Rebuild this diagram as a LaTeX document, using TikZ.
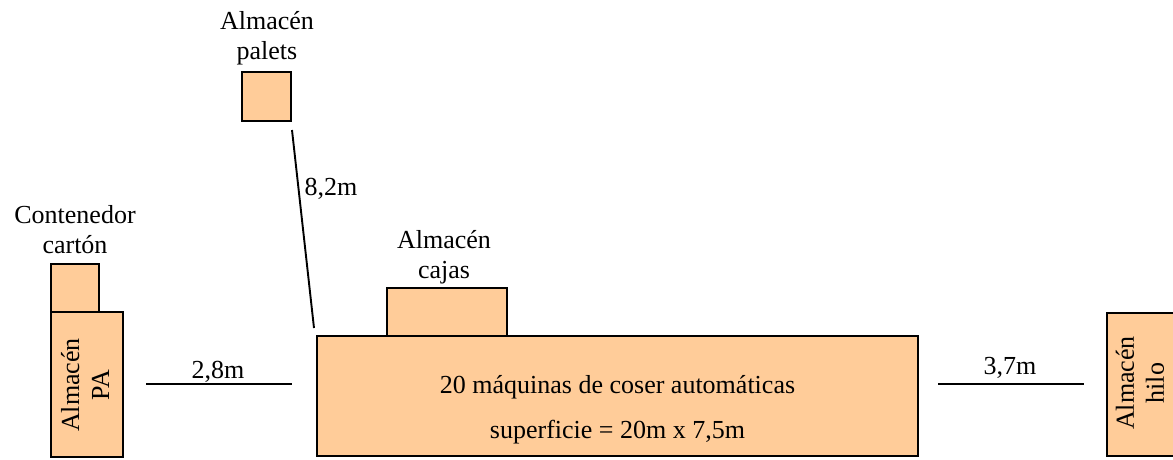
\documentclass[tikz,border=0pt]{standalone}
\usepackage{fontspec}
\setmainfont{Liberation Serif}
\definecolor{peach}{RGB}{255,204,153}
\begin{document}
\begin{tikzpicture}[x=1pt,y=-1pt,
  box/.style={draw=black,fill=peach,line width=1.9pt,inner sep=0pt,outer sep=0pt},
  lbl/.style={font=\fontsize{26}{30}\selectfont,inner sep=0pt,align=center},
  dimline/.style={line width=1.9pt}]
\useasboundingbox (0,0) rectangle (1173,459);
% boxes
\node[box,minimum width=49pt,minimum height=49pt] (palets) at (266.5,96.5) {};
\node[box,minimum width=48pt,minimum height=48pt] (carton) at (75,288) {};
\node[box,minimum width=72pt,minimum height=145pt] (pa) at (87,384.5) {};
\node[box,minimum width=120pt,minimum height=48pt] (cajas) at (447,312) {};
\node[box,minimum width=601pt,minimum height=120pt] (main) at (617.5,396) {};
\node[box,minimum width=72pt,minimum height=143pt] (hilo) at (1143,384.5) {};
% labels (anchor base = baseline of the last line)
\node[lbl,anchor=base] (tpalets) at (267,59) {Almacén\\palets};
\node[lbl,anchor=base] (tcarton) at (75,253) {Contenedor\\cartón};
\node[lbl,anchor=base] (tcajas) at (444,278) {Almacén\\cajas};
\node[lbl,anchor=base] (tmain) at (617.5,438) {20 máquinas de coser automáticas\\[15pt]superficie = 20m x 7,5m};
\node[lbl,rotate=90] (tpa) at (85,385) {Almacén\\PA};
\node[lbl,rotate=90] (thilo) at (1140,383) {Almacén\\hilo};
% dimension lines
\coordinate (d1a) at (292,130);
\coordinate (d1b) at (314,328);
\coordinate (d2a) at (146,384);
\coordinate (d2b) at (292,384);
\coordinate (d3a) at (938,384);
\coordinate (d3b) at (1084,384);
\draw[dimline] (d1a) -- (d1b);
\draw[dimline] (d2a) -- (d2b);
\draw[dimline] (d3a) -- (d3b);
\node[lbl,anchor=base] (l82) at (331,195) {8,2m};
\node[lbl,anchor=base] (l28) at (218,378) {2,8m};
\node[lbl,anchor=base] (l37) at (1010,374) {3,7m};
\end{tikzpicture}
\end{document}
